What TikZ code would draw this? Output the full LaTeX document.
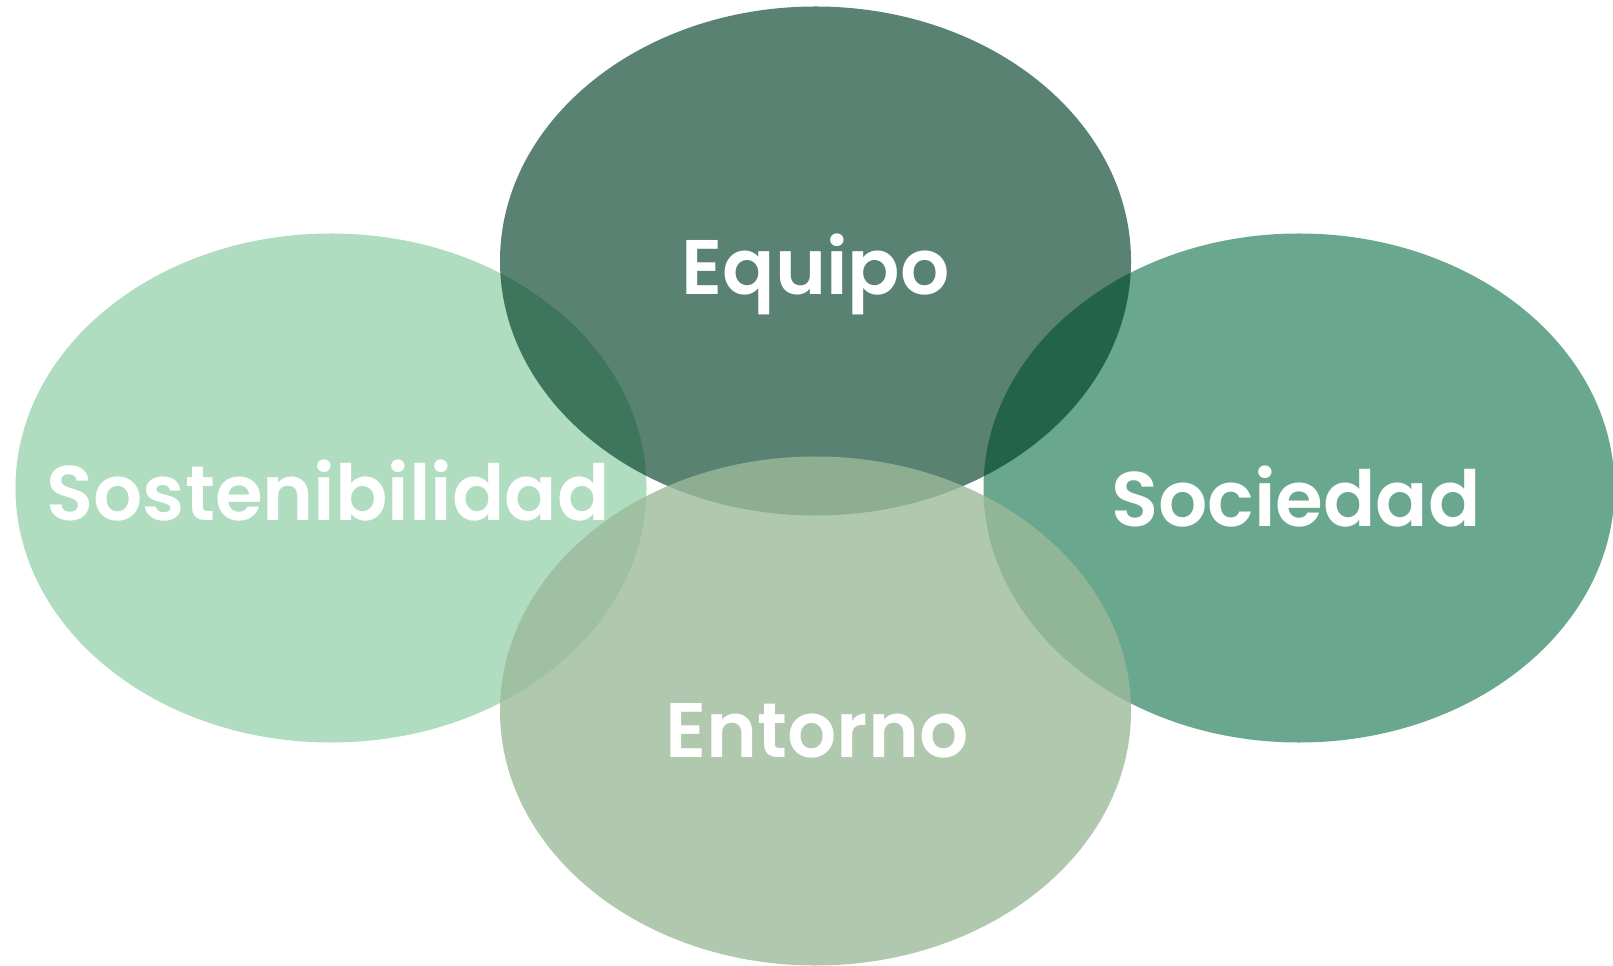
\documentclass[tikz,border=0pt]{standalone}
\usepackage{fontspec}
\setmainfont{Poppins}[BoldFont={Poppins SemiBold}]
\usetikzlibrary{shapes.geometric}

\definecolor{sostcolor}{RGB}{176,220,192}
\definecolor{soccolor}{RGB}{106,167,143}
\definecolor{equipocolor}{RGB}{0,63,40}
\definecolor{entornocolor}{RGB}{155,186,154}

\begin{document}
\begin{tikzpicture}[x=0.2mm,y=-0.2mm]

        \useasboundingbox (0,0) rectangle (1613,966);

        \begin{scope}[every node/.style={ellipse,inner sep=0pt,outer sep=0pt,
            minimum width=126.2mm,minimum height=101.8mm}]
          \node[fill=sostcolor] (sost) at (331,488) {};
          \node[fill=soccolor] (soc) at (1299,488) {};
          \node[fill=equipocolor,fill opacity=.65] (equipo) at (815.5,261) {};
          \node[fill=entornocolor,fill opacity=.8] (entorno) at (815.5,711) {};
        \end{scope}

        \begin{scope}[every node/.style={text=white,anchor=base,inner sep=0pt,
            font=\fontsize{44}{50}\selectfont\bfseries}]
          \node (equipotxt)  at (815.5,295) {Equipo};
          \node (sosttxt)    at (328,521)   {Sostenibilidad};
          \node (soctxt)     at (1296,527)  {Sociedad};
          \node (entornotxt) at (817,757)   {Entorno};
        \end{scope}

      \end{tikzpicture}
\end{document}
